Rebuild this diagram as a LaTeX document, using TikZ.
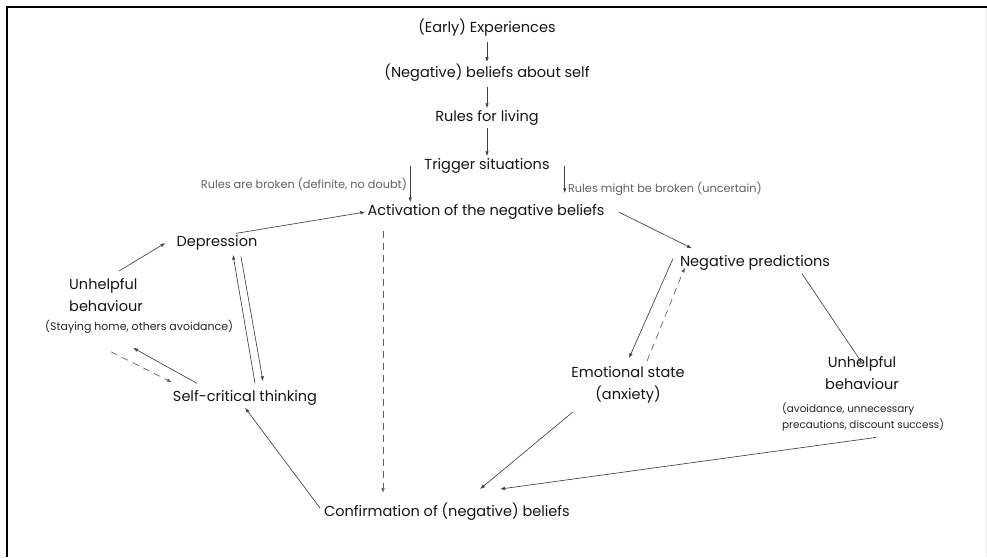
\documentclass[tikz,border=0pt]{standalone}
\usepackage{fontspec}
\setmainfont{Poppins}
\usepackage{tikz}
\usetikzlibrary{arrows.meta}

\begin{document}
\begin{tikzpicture}[
                x=1pt, y=-1pt,
                >={Latex[length=5pt, width=3.5pt]},
                font=\fontsize{14.5}{22.5}\selectfont,
                stage/.style={inner sep=2pt, align=center, text=black!92},
                note/.style={inner sep=2pt, align=left, text=black!85,
                        font=\fontsize{11}{16.5}\selectfont},
                rulelabel/.style={inner sep=3pt, text=black!62, font=\fontsize{11.3}{13}\selectfont},
                arrow/.style={->, black!75, line width=0.65pt},
                guess/.style={->, black!62, line width=0.65pt, dash pattern=on 7pt off 5pt},
            ]

            \useasboundingbox (0,0) rectangle (987,557);
            \draw[line width=2pt] (7,557) -- (7,7) -- (987,7);
            \draw[black!8] (986,8) -- (986,557);

            % --- core chain -------------------------------------------------
            \node[stage] (early)   at (487, 28) {(Early) Experiences};
            \node[stage] (self)    at (487, 73) {(Negative) beliefs about self};
            \node[stage] (rules)   at (487,118) {Rules for living};
            \node[stage] (trigger) at (487,166) {Trigger situations};
            \node[stage] (act)     at (486,212) {Activation of the negative beliefs};
            \node[stage] (conf)    at (447,512) {Confirmation of (negative) beliefs};

            % --- depression loop --------------------------------------------
            \node[stage] (dep)      at (217,243) {Depression};
            \node[stage, align=left, anchor=west] (badl) at (67,295) {Unhelpful\\behaviour};
            \node[note, anchor=west] (badlnote) at (43,327) {(Staying home, others avoidance)};
            \node[stage] (selfcrit) at (245,398) {Self-critical thinking};

            % --- anxiety loop -----------------------------------------------
            \node[stage] (pred)     at (755,263) {Negative predictions};
            \node[stage] (emo)      at (628,385) {Emotional state\\(anxiety)};
            \node[stage] (badr)     at (862,373) {Unhelpful\\behaviour};
            \node[note, anchor=west, font=\fontsize{10.4}{16}\selectfont] (badrnote) at (780,417)
            {(avoidance, unnecessary\\precautions, discount success)};

            % --- routing ----------------------------------------------------
            \draw[arrow, shorten <=3pt] (early.south) -- (self.north);
            \draw[arrow, shorten <=3pt] (self.south) -- (rules.north);
            \draw[arrow] (rules.south) -- (trigger.north);

            \draw[arrow] ([xshift=-12pt]trigger.west) -- ([xshift=-12pt]trigger.west |- act.north)
            node[midway, left, rulelabel] {Rules are broken (definite, no doubt)};
            \draw[arrow, shorten >=9pt] ([xshift=13pt]trigger.east) -- ([xshift=13pt]trigger.east |- act.north)
            node[pos=0.62, right, rulelabel] {Rules might be broken (uncertain)};

            \draw[guess, shorten <=9pt, shorten >=8pt] ([xshift=-103pt]act.south) -- ([xshift=-64pt]conf.north);

            % left: depression
            \draw[arrow] ([xshift=19pt]dep.north) -- (act.west);
            \draw[arrow] ([shift={(52,-5)}]badl.north west) -- ([xshift=-9pt]dep.west);
            \draw[arrow] ([shift={(10,-5)}]selfcrit.north) -- ([shift={(16,2)}]dep.south);
            \draw[arrow] ([shift={(24,4)}]dep.south) -- ([shift={(18,-7)}]selfcrit.north);
            \draw[arrow] ([shift={(-48,-5)}]selfcrit.north) -- ([shift={(90,12)}]badlnote.south west);
            \draw[guess] ([shift={(68,16)}]badlnote.south west) -- ([shift={(-73,-6)}]selfcrit.north);
            \draw[arrow] ([shift={(-2,-4)}]conf.west) -- (selfcrit.south);

            % right: anxiety
            \draw[arrow] ([xshift=12pt]act.east) -- ([shift={(14,-5)}]pred.north west);
            \draw[arrow] ([shift={(-5,-4)}]pred.west) -- ([shift={(1,-6)}]emo.north);
            \draw[guess] ([shift={(19,-3)}]emo.north) -- ([shift={(7,14)}]pred.north west);
            \draw[arrow] ([shift={(47,1)}]pred.south) -- ([yshift=-9pt]badr.north);
            \draw[arrow] ([shift={(-55,6)}]emo.south) -- ([shift={(33,-12)}]conf.north);
            \draw[arrow] ([shift={(13,4)}]badrnote.south) -- ([shift={(53,-12)}]conf.north);
        \end{tikzpicture}
\end{document}
